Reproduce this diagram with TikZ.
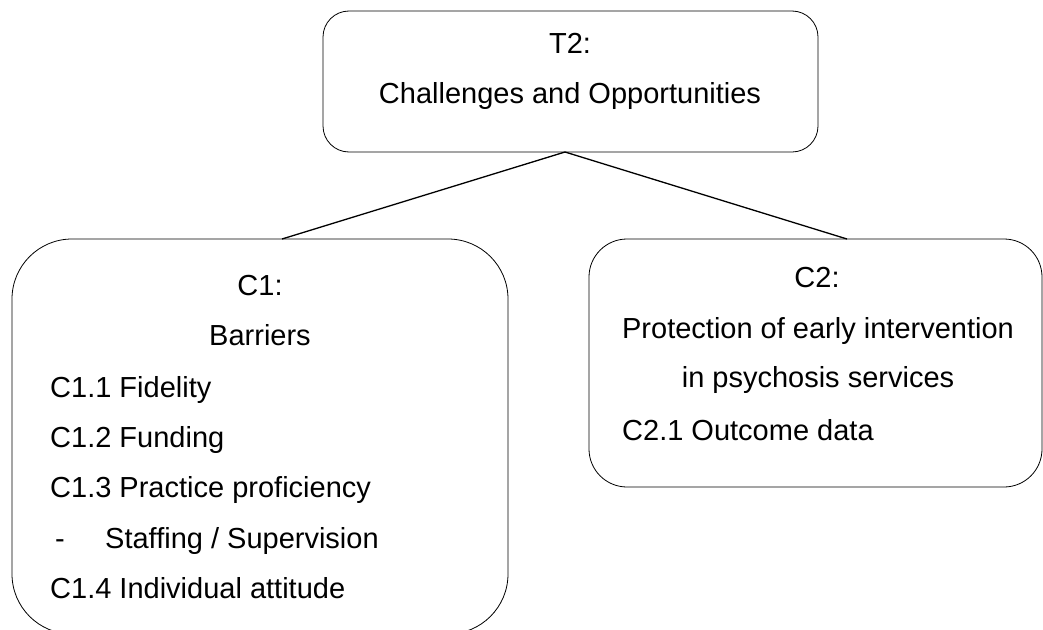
\documentclass[tikz,border=0pt]{standalone}
\usepackage{fontspec}
\setmainfont{Liberation Sans}
\usetikzlibrary{calc}

\begin{document}
\begin{tikzpicture}[x=1pt, y=-1pt,
    box/.style={draw, line width=0.8pt, outer sep=0pt, inner sep=0pt},
    txt/.style={inner sep=0pt, font=\fontsize{29}{35}\selectfont},
    link/.style={line width=1.3pt}]
    \useasboundingbox (0,0) rectangle (1043,629);
    \clip (0,0) rectangle (1043,629);
    % theme box
    \node[box, rounded corners=26, minimum width=495, minimum height=141] (T2) at (570.5, 81.5) {};
    \node[txt, anchor=base] (T2a) at (570, 53) {T2:};
    \node[txt, anchor=base] (T2b) at (570, 103) {Challenges and Opportunities};
    % category boxes
    \node[box, rounded corners=60, minimum width=496, minimum height=395] (C1) at (260, 436.5) {};
    \node[box, rounded corners=38, minimum width=453, minimum height=248] (C2) at (815.5, 363) {};
    % C1 text
    \node[txt, anchor=base] (C1a) at (260, 295) {C1:};
    \node[txt, anchor=base] (C1b) at (260, 345) {Barriers};
    \node[txt, anchor=base west] (C11) at (50, 397) {C1.1 Fidelity};
    \node[txt, anchor=base west] (C12) at (50, 447) {C1.2 Funding};
    \node[txt, anchor=base west] (C13) at (50, 497) {C1.3 Practice proficiency};
    \node[txt, anchor=base west] (C13d) at (55, 548) {-};
    \node[txt, anchor=base west] (C13s) at (105, 548) {Staffing / Supervision};
    \node[txt, anchor=base west] (C14) at (50, 598) {C1.4 Individual attitude};
    % C2 text
    \node[txt, anchor=base] (C2a) at (817, 287) {C2:};
    \node[txt, anchor=base] (C2b) at (818, 338) {Protection of early intervention};
    \node[txt, anchor=base] (C2c) at (818, 387) {in psychosis services};
    \node[txt, anchor=base west] (C21) at (622, 440) {C2.1 Outcome data};
    % connectors
    \draw[link] ([xshift=-5.5]T2.south) -- ([xshift=22]C1.north);
    \draw[link] ([xshift=-5.5]T2.south) -- ([xshift=31.5]C2.north);
\end{tikzpicture}
\end{document}
